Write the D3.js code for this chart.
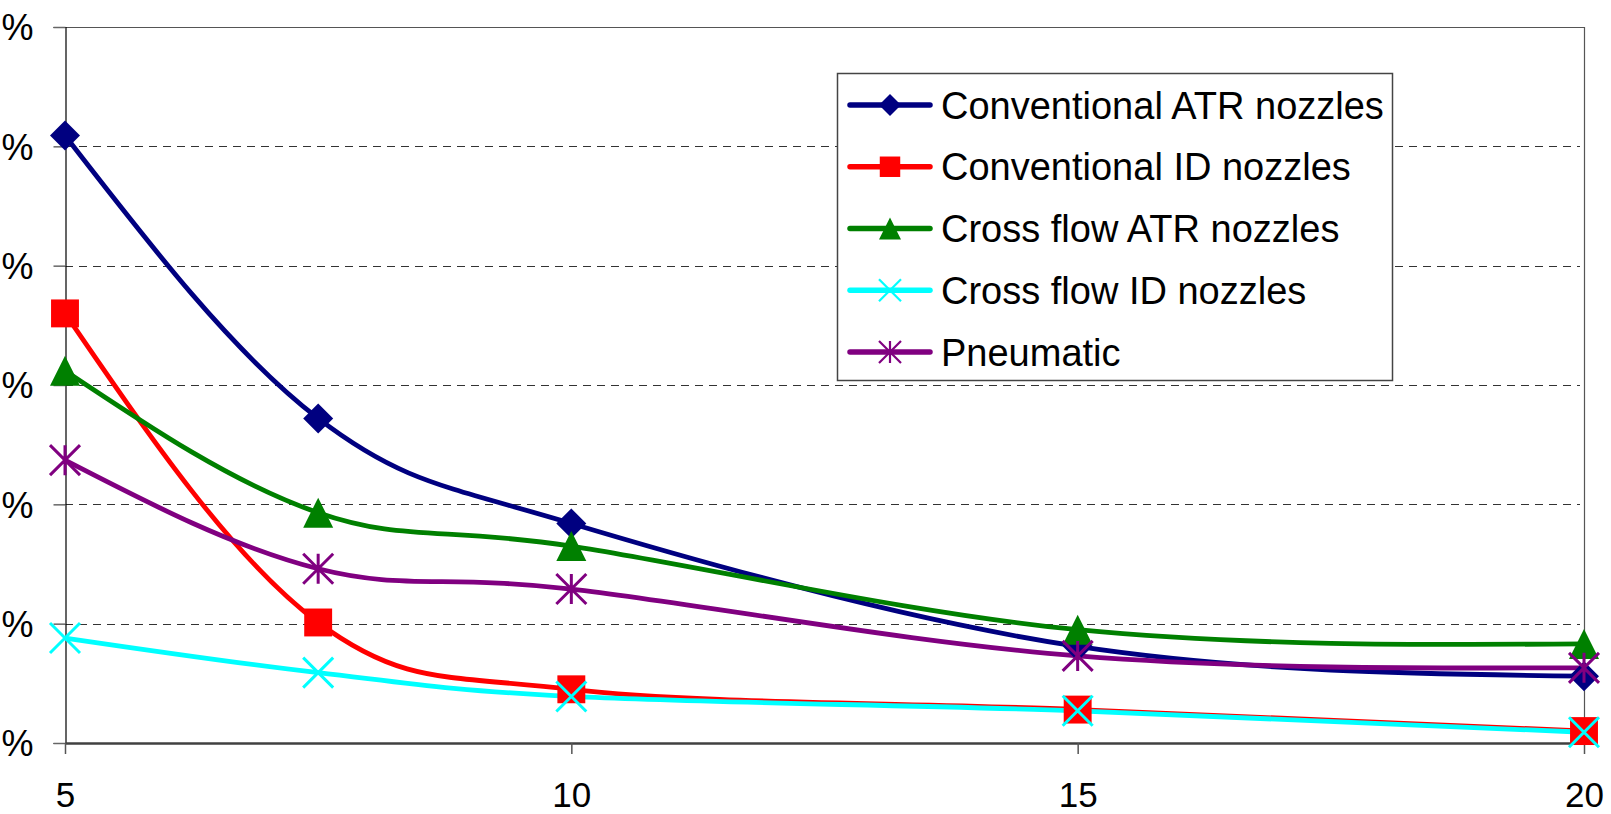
<!DOCTYPE html>
<html>
<head>
<meta charset="utf-8">
<script src="https://cdn.jsdelivr.net/npm/d3@7"></script>
<style>
  html, body { margin: 0; padding: 0; background: #fff; }
  svg { display: block; font-family: "Liberation Sans", Arial, sans-serif; }
</style>
</head>
<body>
<svg id="chart" width="1611" height="814"></svg>
<script>
// ---- data ----
const xValues = [5, 7.5, 10, 15, 20];
const xTickValues = [5, 10, 15, 20];
const yTickValues = [0, 10, 20, 30, 40, 50, 60];
const yTickLabels = ["%", "%", "%", "%", "%", "%", "%"];
const seriesNames = [
  "Conventional ATR nozzles",
  "Conventional ID nozzles",
  "Cross flow ATR nozzles",
  "Cross flow ID nozzles",
  "Pneumatic"
];
const convATR  = [50.9, 27.2, 18.4, 8.1, 5.6];
const convID   = [36.0, 10.1, 4.5, 2.8, 1.0];
const crossATR = [31.2, 19.3, 16.5, 9.5, 8.3];
const crossID  = [8.8, 5.9, 3.9, 2.7, 0.9];
const pneumatic = [23.7, 14.6, 12.9, 7.3, 6.3];

const seriesValues = [convATR, convID, crossATR, crossID, pneumatic];
const seriesColors = ["#000080", "#FF0000", "#008000", "#00FFFF", "#800080"];
const seriesMarkers = ["diamond", "square", "triangle", "x", "asterisk"];

// ---- layout ----
const svg = d3.select("#chart");
const plot = { left: 65, right: 1584, top: 27, bottom: 743 };

const x = d3.scaleLinear().domain([5, 20]).range([plot.left, plot.right]);
const y = d3.scaleLinear().domain([0, 60]).range([plot.bottom, plot.top]);

// gridlines (dashed)
svg.append("g")
  .selectAll("line")
  .data(yTickValues.filter(v => v > 0 && v < 60))
  .join("line")
  .attr("x1", plot.left).attr("x2", plot.right - 4)
  .attr("y1", d => Math.round(y(d)) + 0.5).attr("y2", d => Math.round(y(d)) + 0.5)
  .attr("stroke", "#333").attr("stroke-width", 1.2)
  .attr("stroke-dasharray", "8,6");

// plot border top & right
svg.append("path")
  .attr("d", `M${plot.left},${plot.top + 0.5}H${plot.right + 0.5}V${plot.bottom}`)
  .attr("fill", "none").attr("stroke", "#555").attr("stroke-width", 1.2);

// y axis
const yAxis = d3.axisLeft(y).tickValues(yTickValues).tickSize(12)
  .tickFormat((d, i) => yTickLabels[i]);
const gy = svg.append("g").attr("transform", `translate(${plot.left + 0.5},0)`).call(yAxis);
gy.select(".domain").attr("stroke", "#000").attr("stroke-width", 1.2);
gy.selectAll(".tick line").attr("stroke", "#666").attr("stroke-width", 1.5);
gy.selectAll(".tick text")
  .attr("x", -32).attr("dy", "0.36em")
  .attr("font-size", 36).attr("fill", "#000")
  .attr("font-family", "Liberation Sans, Arial, sans-serif");

// x axis
const xAxis = d3.axisBottom(x).tickValues(xTickValues).tickSize(11).tickSizeOuter(0)
  .tickFormat(d3.format("d"));
const gx = svg.append("g").attr("transform", `translate(0,${plot.bottom})`).call(xAxis);
gx.select(".domain").attr("stroke", "#404040").attr("stroke-width", 2.5);
gx.selectAll(".tick line").attr("stroke", "#555").attr("stroke-width", 1.5);
gx.selectAll(".tick text")
  .attr("y", 39).attr("dy", "0.71em")
  .attr("font-size", 35).attr("fill", "#000")
  .attr("font-family", "Liberation Sans, Arial, sans-serif");

// ---- marker drawing ----
function drawMarker(g, type, cx, cy, color, s) {
  if (type === "diamond") {
    g.append("path").attr("d", `M${cx},${cy - s}L${cx + s},${cy}L${cx},${cy + s}L${cx - s},${cy}Z`)
      .attr("fill", color);
  } else if (type === "square") {
    const h = s * 0.93;
    g.append("rect").attr("x", cx - h).attr("y", cy - h).attr("width", 2 * h).attr("height", 2 * h)
      .attr("fill", color);
  } else if (type === "triangle") {
    g.append("path").attr("d", `M${cx},${cy - s}L${cx + s},${cy + s}L${cx - s},${cy + s}Z`)
      .attr("fill", color);
  } else if (type === "x") {
    g.append("path").attr("d", `M${cx - s},${cy - s}L${cx + s},${cy + s}M${cx + s},${cy - s}L${cx - s},${cy + s}`)
      .attr("stroke", color).attr("stroke-width", s / 5).attr("fill", "none");
  } else if (type === "asterisk") {
    g.append("path").attr("d",
      `M${cx - s},${cy - s}L${cx + s},${cy + s}M${cx + s},${cy - s}L${cx - s},${cy + s}M${cx},${cy - s}L${cx},${cy + s}`)
      .attr("stroke", color).attr("stroke-width", s / 5).attr("fill", "none");
  }
}

// ---- smooth curve: Catmull-Rom interior tangents, natural (quadratic) ends ----
function SmoothCurve(context) { this._context = context; }
SmoothCurve.prototype = {
  areaStart() {}, areaEnd() {},
  lineStart() { this._pts = []; },
  point(px, py) { this._pts.push([+px, +py]); },
  lineEnd() {
    const p = this._pts, n = p.length, c = this._context;
    if (!n) return;
    c.moveTo(p[0][0], p[0][1]);
    if (n < 3) { for (let i = 1; i < n; i++) c.lineTo(p[i][0], p[i][1]); return; }
    const D = new Array(n);
    for (let i = 1; i < n - 1; i++) {
      D[i] = [(p[i + 1][0] - p[i - 1][0]) / 2, (p[i + 1][1] - p[i - 1][1]) / 2];
    }
    D[0] = [(3 * (p[1][0] - p[0][0]) - D[1][0]) / 2, (3 * (p[1][1] - p[0][1]) - D[1][1]) / 2];
    D[n - 1] = [(3 * (p[n - 1][0] - p[n - 2][0]) - D[n - 2][0]) / 2,
                (3 * (p[n - 1][1] - p[n - 2][1]) - D[n - 2][1]) / 2];
    for (let i = 0; i < n - 1; i++) {
      c.bezierCurveTo(
        p[i][0] + D[i][0] / 3, p[i][1] + D[i][1] / 3,
        p[i + 1][0] - D[i + 1][0] / 3, p[i + 1][1] - D[i + 1][1] / 3,
        p[i + 1][0], p[i + 1][1]);
    }
  }
};
const curveSmooth = ctx => new SmoothCurve(ctx);

// ---- lines ----
const line = d3.line()
  .x(d => x(d[0]))
  .y(d => y(d[1]))
  .curve(curveSmooth);

const linesG = svg.append("g");
seriesValues.forEach((vals, i) => {
  const pts = xValues.map((xv, j) => [xv, vals[j]]);
  linesG.append("path")
    .datum(pts)
    .attr("d", line)
    .attr("fill", "none")
    .attr("stroke", seriesColors[i])
    .attr("stroke-width", 4.8)
    .attr("stroke-linejoin", "round");
});

const markersG = svg.append("g");
seriesValues.forEach((vals, i) => {
  xValues.forEach((xv, j) => {
    drawMarker(markersG, seriesMarkers[i], x(xv), y(vals[j]), seriesColors[i], 15);
  });
});

// ---- legend ----
const legend = { x: 837, y: 73, w: 555, h: 307 };
const lg = svg.append("g");
lg.append("rect")
  .attr("x", legend.x + 0.5).attr("y", legend.y + 0.5)
  .attr("width", legend.w).attr("height", legend.h)
  .attr("fill", "#fff").attr("stroke", "#444").attr("stroke-width", 1.5);

const rowY = d3.scaleLinear().domain([0, 4]).range([105, 352]);
seriesNames.forEach((name, i) => {
  const cy = rowY(i);
  lg.append("line")
    .attr("x1", 850).attr("x2", 930).attr("y1", cy).attr("y2", cy)
    .attr("stroke", seriesColors[i]).attr("stroke-width", 5.5).attr("stroke-linecap", "round");
  drawMarker(lg, seriesMarkers[i], 890, cy, seriesColors[i], 11);
  lg.append("text")
    .attr("x", 941).attr("y", cy).attr("dy", "0.36em")
    .attr("font-size", 38).attr("fill", "#000")
    .text(name);
});
</script>
</body>
</html>
